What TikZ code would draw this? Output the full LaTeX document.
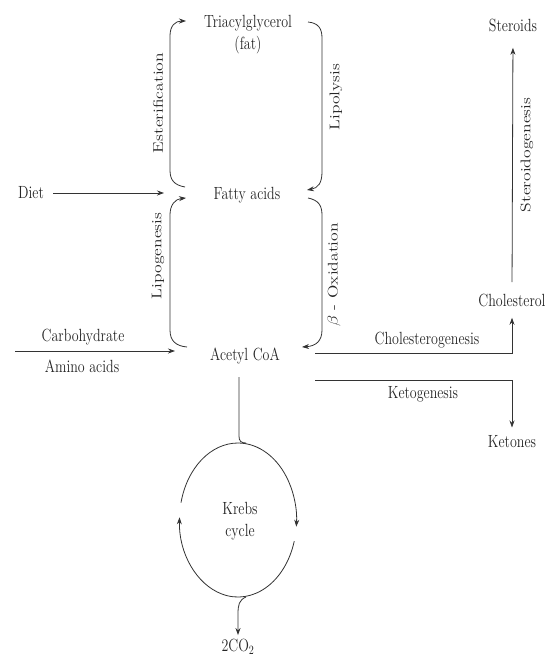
\documentclass[tikz,border=0pt]{standalone}
\usepackage{graphicx}
\usetikzlibrary{arrows.meta}
% text is set slightly taller than wide, as in the printed chart
\newcommand{\tall}[1]{\scalebox{1}[1.26]{#1}}
\newcommand{\along}[1]{\scalebox{1.26}[1]{#1}}
\begin{document}
\begin{tikzpicture}[x=1pt,y=-1pt,
  line width=0.8pt,
  ink/.style={draw=black!80},
  lbl/.style={font=\fontsize{14}{17.5}\selectfont, text=black!85, inner sep=1pt, align=center},
  arr/.style={ink,-{Stealth[length=7pt,width=5pt]}},
  plain/.style={ink}]
\path[fill=white] (0,0) rectangle (547,657);

% compounds
\node[lbl] (tag)   at (248,34)  {\tall{\begin{tabular}{@{}c@{}}Triacylglycerol\\(fat)\end{tabular}}};
\node[lbl] (fa)    at (247,195) {\tall{Fatty acids}};
\node[lbl] (acoa)  at (245,356) {\tall{Acetyl CoA}};
\node[lbl] (diet)  at (31,193)  {\tall{Diet}};
\node[lbl] (carb)  at (83,337)  {\tall{Carbohydrate}};
\node[lbl] (amino) at (82,366)  {\tall{Amino acids}};
\node[lbl] (ster)  at (513,25)  {\tall{Steroids}};
\node[lbl] (chol)  at (512,300) {\tall{Cholesterol}};
\node[lbl] (ket)   at (512,442) {\tall{Ketones}};
\node[lbl] (krebs) at (240,521) {\tall{\begin{tabular}{@{}c@{}}Krebs\\cycle\end{tabular}}};
\node[lbl] (co2)   at (238,647) {\tall{2CO$_2$}};

% process names
\node[lbl,rotate=90] (ester) at (158,103) {\along{Esterification}};
\node[lbl,rotate=90] (lipol) at (336,97)  {\along{Lipolysis}};
\node[lbl,rotate=90] (lipog) at (158,256) {\along{Lipogenesis}};
\node[lbl,rotate=90] (boxid) at (334,275) {\along{$\beta$ - Oxidation}};
\node[lbl,rotate=90] (sterg) at (527,155) {\along{Steroidogenesis}};
\node[lbl] (cholg) at (427,340) {\tall{Cholesterogenesis}};
\node[lbl] (ketog) at (423,394) {\tall{Ketogenesis}};

% bracket ends beside the compounds
\coordinate (faNW) at (185,187);
\coordinate (faSW) at (186,198);
\coordinate (faNE) at (307,190);
\coordinate (faSE) at (308,198);
\coordinate (tagW) at (186,21);
\coordinate (tagE) at (308,22);
\coordinate (acW)  at (187,347);
\coordinate (acE)  at (302,347);
\coordinate (dietEnd) at (164,193);
\coordinate (carbStart) at (15,351);
\coordinate (carbEnd) at (175,351);
\coordinate (cgStart) at (315,353);
\coordinate (kgStart) at (315,380);

% esterification: fatty acids -> triacylglycerol
\draw[arr] (faNW) .. controls (174,185) and (170,180) .. (170,170) -- (170,36)
  .. controls (170,26) and (175,21) .. (tagW);
% lipolysis: triacylglycerol -> fatty acids
\draw[arr] (tagE) .. controls (318,23) and (322,28) .. (322,38) -- (322,172)
  .. controls (322,183) and (318,188) .. (faNE);
% lipogenesis: acetyl CoA -> fatty acids
\draw[arr] (acW) .. controls (176,346) and (170,341) .. (170,330) -- (170,215)
  .. controls (170,205) and (175,199) .. (faSW);
% beta oxidation: fatty acids -> acetyl CoA
\draw[arr] (faSE) .. controls (318,200) and (322,205) .. (322,215) -- (322,330)
  .. controls (322,341) and (316,346) .. (acE);

% inputs
\draw[arr] (diet.east) ++(8,0) -- (dietEnd);
\draw[arr] (carbStart) -- (carbEnd);

% outputs on the right
\draw[arr, shorten >=10pt] (cgStart) -| (chol.south);
\draw[arr, shorten <=10pt, shorten >=15pt] (chol.north) -- (ster.south);
\draw[arr, shorten >=7pt] (kgStart) -| (ket.north);

% Krebs cycle
\coordinate (kc) at (238,520);
\coordinate (ktop) at (246,443);
\draw[plain] (239,377) -- (239,436) .. controls (239,441) and (241,443) .. (ktop);
\draw[arr] (kc) ++(-90:58.5 and 77) arc[start angle=-90, end angle=5, x radius=58.5, y radius=77];
\draw[arr] (kc) ++(16:58.5 and 77) arc[start angle=16, end angle=182, x radius=58.5, y radius=77];
\draw[plain] (kc) ++(193:58.5 and 77) arc[start angle=193, end angle=270, x radius=58.5, y radius=77];
\coordinate (kbot) at (246,597);
\draw[arr, shorten >=3pt] (kbot) .. controls (239,600) and (238,605) .. (238,614) -- (co2.north);
\end{tikzpicture}
\end{document}
